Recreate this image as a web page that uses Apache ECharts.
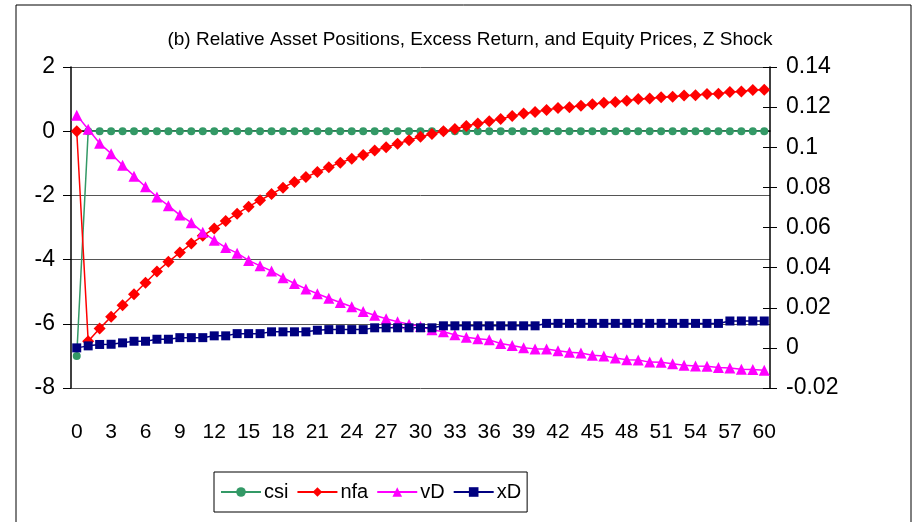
<!DOCTYPE html>
<html>
<head>
<meta charset="utf-8">
<script src="https://cdn.jsdelivr.net/npm/echarts/dist/echarts.min.js"></script>
<style>
  html, body { margin: 0; padding: 0; background: #fff; }
  #chart { width: 919px; height: 522px; }
</style>
</head>
<body>
<div id="chart"></div>
<script>
// periods after the shock
var periods = ['0','1','2','3','4','5','6','7','8','9','10','11','12','13','14','15','16','17','18','19','20',
  '21','22','23','24','25','26','27','28','29','30','31','32','33','34','35','36','37','38','39','40',
  '41','42','43','44','45','46','47','48','49','50','51','52','53','54','55','56','57','58','59','60'];

// left axis
var csi = [-7.0, 0,0,0,0,0,0,0,0,0,0, 0,0,0,0,0,0,0,0,0,0, 0,0,0,0,0,0,0,0,0,0,
  0,0,0,0,0,0,0,0,0,0, 0,0,0,0,0,0,0,0,0,0, 0,0,0,0,0,0,0,0,0,0];
var nfa = [0, -6.54, -6.15, -5.78, -5.42, -5.08, -4.72, -4.37, -4.07, -3.78, -3.50,
  -3.26, -3.03, -2.80, -2.57, -2.35, -2.15, -1.96, -1.76, -1.58, -1.43,
  -1.27, -1.12, -0.98, -0.86, -0.74, -0.60, -0.50, -0.39, -0.28, -0.17,
  -0.09, 0.00, 0.07, 0.16, 0.24, 0.31, 0.38, 0.47, 0.55, 0.60,
  0.66, 0.72, 0.75, 0.79, 0.84, 0.89, 0.91, 0.95, 1.00, 1.02,
  1.06, 1.07, 1.11, 1.12, 1.16, 1.17, 1.22, 1.24, 1.28, 1.29];

// right axis
var vD = [0.116, 0.109, 0.102, 0.0968, 0.091, 0.0856, 0.0803, 0.0752, 0.0709, 0.0662, 0.0624,
  0.0576, 0.0537, 0.0500, 0.0472, 0.0436, 0.0409, 0.0383, 0.0350, 0.0321, 0.0294,
  0.0270, 0.0247, 0.0226, 0.0205, 0.0181, 0.0163, 0.0145, 0.0130, 0.0118, 0.0106,
  0.0090, 0.0080, 0.0065, 0.0053, 0.0045, 0.0040, 0.0022, 0.0012, 0.0001, -0.0005,
  -0.0006, -0.0014, -0.0022, -0.0026, -0.0037, -0.0041, -0.0050, -0.0059, -0.0061, -0.0071,
  -0.0072, -0.0079, -0.0087, -0.0090, -0.0092, -0.0098, -0.0100, -0.0107, -0.0108, -0.0112];
var xD = [0.0000, 0.0010, 0.0017, 0.0018, 0.0025, 0.0033, 0.0033, 0.0043, 0.0043, 0.0051, 0.0051,
  0.0051, 0.0060, 0.0060, 0.0071, 0.0071, 0.0071, 0.0080, 0.0080, 0.0080, 0.0080,
  0.0088, 0.0091, 0.0091, 0.0091, 0.0091, 0.0100, 0.0100, 0.0100, 0.0100, 0.0100,
  0.0100, 0.0110, 0.0110, 0.0110, 0.0110, 0.0110, 0.0110, 0.0110, 0.0110, 0.0110,
  0.0122, 0.0122, 0.0122, 0.0122, 0.0122, 0.0122, 0.0122, 0.0122, 0.0122, 0.0122,
  0.0122, 0.0122, 0.0122, 0.0122, 0.0122, 0.0122, 0.0134, 0.0134, 0.0134, 0.0134];

var FONT = "'Liberation Sans Narrow', 'Arial Narrow', 'Liberation Sans', sans-serif";

var chart = echarts.init(document.getElementById('chart'));

function lineSeries(name, data, color, symbol, size, axis) {
  return {
    name: name,
    type: 'line',
    data: data,
    yAxisIndex: axis,
    symbol: symbol,
    symbolSize: size,
    showAllSymbol: true,
    lineStyle: { color: color, width: 1.5 },
    itemStyle: { color: color },
    emphasis: { disabled: true }
  };
}

chart.setOption({
  animation: false,
  backgroundColor: '#fff',
  textStyle: { fontFamily: FONT, color: '#000' },
  title: {
    text: '(b) Relative Asset Positions, Excess Return, and Equity Prices, Z Shock',
    left: 465,
    top: 25,
    textAlign: 'center',
    textStyle: { fontSize: 19, fontWeight: 'normal', fontFamily: FONT, color: '#000' }
  },
  graphic: [{
    type: 'rect',
    shape: { x: 16, y: 5, width: 895, height: 560 },
    style: { fill: 'none', stroke: '#000', lineWidth: 1 },
    silent: true
  }],
  legend: {
    left: 214,
    top: 472,
    orient: 'horizontal',
    itemWidth: 40,
    itemHeight: 12,
    itemGap: 8,
    padding: [10, 6, 10, 6],
    borderColor: '#000',
    borderWidth: 1,
    textStyle: { fontSize: 20, fontFamily: FONT, color: '#000', padding: [0, 0, 0, -2] },
    data: ['csi', 'nfa', 'vD', 'xD']
  },
  grid: { left: 71, right: 149, top: 67, bottom: 134 },
  xAxis: {
    type: 'category',
    data: periods,
    boundaryGap: true,
    axisLine: { lineStyle: { color: '#000', width: 1.5 } },
    axisTick: { interval: 0, length: 7, lineStyle: { color: '#000' } },
    axisLabel: {
      interval: 2,
      margin: 34,
      fontSize: 21,
      fontFamily: FONT,
      color: '#000'
    },
    splitLine: { show: false }
  },
  yAxis: [{
    type: 'value',
    position: 'left',
    min: -8,
    max: 2,
    interval: 2,
    axisLine: { show: true, lineStyle: { color: '#000', width: 1.5 } },
    axisTick: { show: true, length: 8, lineStyle: { color: '#000' } },
    axisLabel: { margin: 16, fontSize: 23, fontFamily: FONT, color: '#000' },
    splitLine: { show: true, lineStyle: { color: '#555', width: 1 } }
  }, {
    type: 'value',
    position: 'right',
    min: -0.02,
    max: 0.14,
    interval: 0.02,
    axisLine: { show: true, lineStyle: { color: '#000', width: 1.5 } },
    axisTick: { show: true, length: 7, lineStyle: { color: '#000' } },
    axisLabel: {
      margin: 16,
      fontSize: 23,
      fontFamily: FONT,
      color: '#000',
      formatter: function (v) { return String(Math.round(v * 100) / 100); }
    },
    splitLine: { show: false }
  }, {
    // inner half of the crossing ticks on the right axis
    type: 'value',
    position: 'right',
    min: -0.02,
    max: 0.14,
    interval: 0.02,
    axisLine: { show: false },
    axisTick: { show: true, inside: true, length: 7, lineStyle: { color: '#000' } },
    axisLabel: { show: false },
    splitLine: { show: false }
  }],
  series: [
    lineSeries('csi', csi, '#339966', 'circle', 8, 0),
    lineSeries('nfa', nfa, '#FF0000', 'diamond', 12, 0),
    lineSeries('vD', vD, '#FF00FF', 'triangle', 11, 1),
    lineSeries('xD', xD, '#000080', 'rect', 9, 1)
  ]
});
</script>
</body>
</html>
